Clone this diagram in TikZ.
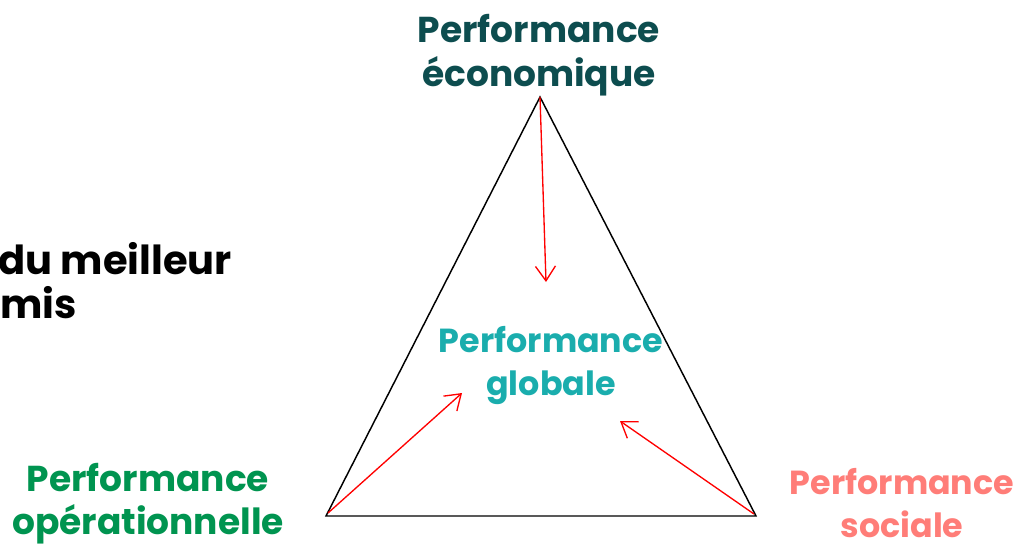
\documentclass[tikz,border=0pt]{standalone}
\usepackage{fontspec}
\setmainfont{Poppins}
\usepackage{tikz}
\usetikzlibrary{arrows.meta}
\definecolor{ecoteal}{HTML}{0D4D4F}
\definecolor{globteal}{HTML}{1AADAD}
\definecolor{opgreen}{HTML}{009450}
\definecolor{socsalmon}{HTML}{FF7D78}
\tikzset{
  label/.style={font=\bfseries\fontsize{27}{33}\selectfont, align=center, inner sep=0pt, anchor=base},
  small label/.style={label, font=\bfseries\fontsize{25}{32}\selectfont},
  bigtext/.style={font=\bfseries\fontsize{30}{35}\selectfont, inner sep=0pt, anchor=base west},
  push/.style={red, line width=1pt, -{Straight Barb[length=11pt, width=15pt]}}
}

\begin{document}
\begin{tikzpicture}[x=0.75pt, y=-0.75pt]
        \useasboundingbox (0,0) rectangle (1019,547);
        % Triangle corners
        \coordinate (eco) at (540,97);
        \coordinate (op) at (326,516);
        \coordinate (soc) at (756,516);
        \draw[line width=1.1pt] (eco) -- (op) -- (soc) -- cycle;

        % Labels (anchored on the baseline of the last line)
        \node[label, ecoteal] (ecolbl) at (539,86) {Performance\\économique};
        \node[small label, globteal] (glob) at (551,395) {Performance\\globale};
        \node[label, opgreen, font=\bfseries\fontsize{27}{32}\selectfont] (oplbl) at (148,534) {Performance\\opérationnelle};
        \node[small label, socsalmon] (soclbl) at (902,537) {Performance\\sociale};

        % Text cut at left edge
        \node[bigtext] (best) at (-2,274) {du meilleur};
        \node[bigtext] (comp) at (0,318) {mis};

        % Pushes towards the centre
        \coordinate (ecoend) at (546,282);
        \coordinate (opend) at (462,393);
        \coordinate (socend) at (620,421);
        \draw[push] (eco) -- (ecoend);
        \draw[push] ([shift={(2,-3)}]op) -- (opend);
        \draw[push] ([shift={(-2,-2)}]soc) -- (socend);
    \end{tikzpicture}
\end{document}
